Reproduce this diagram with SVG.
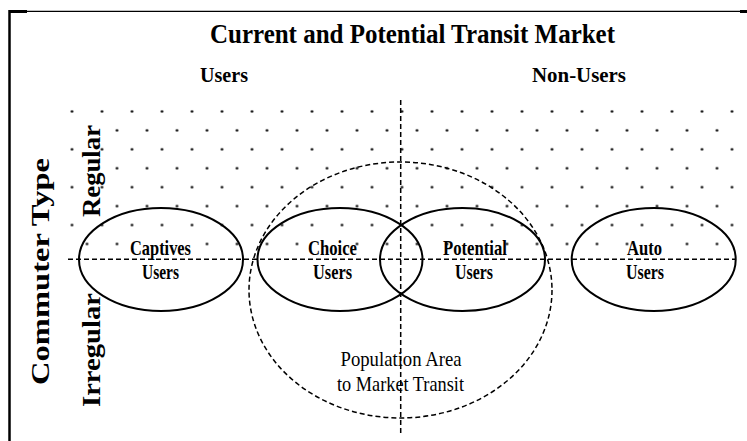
<svg xmlns="http://www.w3.org/2000/svg" width="747" height="441" viewBox="0 0 747 441">
  <style>
    .b { font-family: "Liberation Serif", "Times New Roman", serif; font-weight: bold; fill: #000; }
    .r { font-family: "Liberation Serif", "Times New Roman", serif; font-weight: normal; fill: #000; }
    .node { fill: none; stroke: #000; stroke-width: 2; }
    .dash { fill: none; stroke: #000; stroke-width: 1.5; stroke-dasharray: 5 3; }
    .lbl { font-size: 21px; text-anchor: middle; }
  </style>
  <defs>
    <pattern id="dotgrid" patternUnits="userSpaceOnUse" x="64.5" y="102" width="30" height="37.86">
      <circle cx="7.5" cy="9.5" r="1.3" fill="#000"/>
      <circle cx="22.5" cy="28.43" r="1.3" fill="#000"/>
    </pattern>
    <mask id="dotmask" maskUnits="userSpaceOnUse" x="0" y="0" width="747" height="441">
      <rect x="0" y="0" width="747" height="441" fill="#fff"/>
      <rect x="81" y="120" width="16" height="100" fill="#000"/>
      <rect x="130" y="238" width="60" height="12" fill="#000"/>
      <rect x="315" y="238" width="25" height="12" fill="#000"/>
      <rect x="462" y="238" width="30" height="12" fill="#000"/>
      <rect x="645" y="238" width="25" height="12" fill="#000"/>
    </mask>
  </defs>
  <rect width="747" height="441" fill="#fff"/>

  <g id="frame">
    <line x1="9.5" y1="10" x2="9.5" y2="441" stroke="#000" stroke-width="2.5"/>
    <line x1="9" y1="11.3" x2="740" y2="11.3" stroke="#000" stroke-width="1.3"/>
    <rect x="9" y="10" width="18" height="3" fill="#000"/>
    <rect x="740" y="10" width="7" height="3" fill="#000"/>
  </g>

  <g id="dots">
    <rect x="64.5" y="102" width="675.5" height="151.4" fill="url(#dotgrid)" mask="url(#dotmask)"/>
  </g>

  <g id="headings">
    <text class="b" x="412.5" y="43" font-size="27" text-anchor="middle" textLength="405" lengthAdjust="spacingAndGlyphs">Current and Potential Transit Market</text>
    <text class="b" x="224" y="82" font-size="22" text-anchor="middle" textLength="48" lengthAdjust="spacingAndGlyphs">Users</text>
    <text class="b" x="579" y="82" font-size="22" text-anchor="middle" textLength="94" lengthAdjust="spacingAndGlyphs">Non-Users</text>
    <text class="b" transform="translate(48.5,385) rotate(-90)" font-size="25" textLength="227" lengthAdjust="spacingAndGlyphs">Commuter Type</text>
    <text class="b" transform="translate(99.5,217) rotate(-90)" font-size="26" textLength="92" lengthAdjust="spacingAndGlyphs">Regular</text>
    <text class="b" transform="translate(99.5,407) rotate(-90)" font-size="26" textLength="114" lengthAdjust="spacingAndGlyphs">Irregular</text>
  </g>

  <g id="connectors">
    <line class="dash" x1="68" y1="259.3" x2="736" y2="259.3"/>
    <line class="dash" x1="400.7" y1="100" x2="400.7" y2="433"/>
  </g>

  <g id="population-area">
    <ellipse class="dash" cx="400.5" cy="290" rx="151.5" ry="128"/>
    <text class="r" x="401" y="366" font-size="21" text-anchor="middle" textLength="121" lengthAdjust="spacingAndGlyphs">Population Area</text>
    <text class="r" x="400.5" y="391" font-size="21" text-anchor="middle" textLength="127" lengthAdjust="spacingAndGlyphs">to Market Transit</text>
  </g>

  <g id="captives-users">
    <ellipse class="node" cx="161" cy="259.5" rx="82" ry="51.5"/>
    <text class="b lbl" x="160.5" y="255" textLength="61" lengthAdjust="spacingAndGlyphs">Captives</text>
    <text class="b lbl" x="160.5" y="279" textLength="37" lengthAdjust="spacingAndGlyphs">Users</text>
  </g>

  <g id="choice-users">
    <ellipse class="node" cx="340" cy="259.5" rx="82.5" ry="51.5"/>
    <text class="b lbl" x="332.5" y="255" textLength="49" lengthAdjust="spacingAndGlyphs">Choice</text>
    <text class="b lbl" x="332.5" y="279" textLength="39" lengthAdjust="spacingAndGlyphs">Users</text>
  </g>

  <g id="potential-users">
    <ellipse class="node" cx="462.5" cy="259.5" rx="82.5" ry="51.5"/>
    <text class="b lbl" x="475" y="255" textLength="64" lengthAdjust="spacingAndGlyphs">Potential</text>
    <text class="b lbl" x="474" y="279" textLength="38" lengthAdjust="spacingAndGlyphs">Users</text>
  </g>

  <g id="auto-users">
    <ellipse class="node" cx="653.7" cy="259.5" rx="82" ry="51.5"/>
    <text class="b lbl" x="644.5" y="255" textLength="35" lengthAdjust="spacingAndGlyphs">Auto</text>
    <text class="b lbl" x="645" y="279" textLength="38" lengthAdjust="spacingAndGlyphs">Users</text>
  </g>
</svg>
